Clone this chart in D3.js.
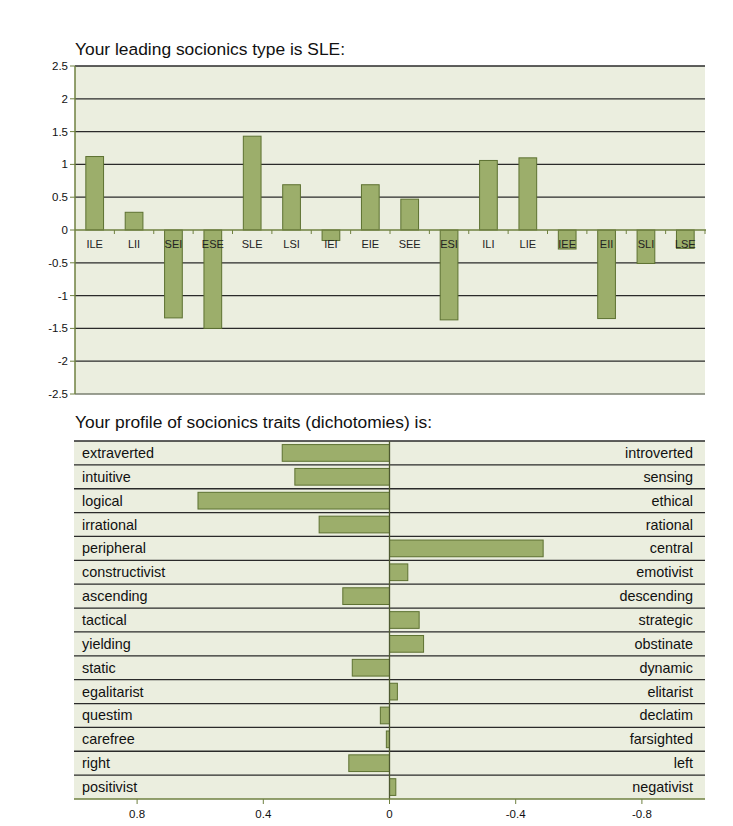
<!DOCTYPE html>
<html><head><meta charset="utf-8">
<script src="https://cdn.jsdelivr.net/npm/d3@7"></script>
<style>body{margin:0;background:#fff;font-family:Arial,"Liberation Sans",sans-serif;}</style>
</head><body><svg id="c" width="733" height="826"></svg>
<script>
const types = ["ILE","LII","SEI","ESE","SLE","LSI","IEI","EIE","SEE","ESI","ILI","LIE","IEE","EII","SLI","LSE"];
const typeValues = [1.12,0.27,-1.34,-1.50,1.43,0.69,-0.16,0.69,0.47,-1.37,1.06,1.10,-0.29,-1.35,-0.51,-0.28];
const yTicks = [2.5,2,1.5,1,0.5,0,-0.5,-1,-1.5,-2,-2.5];
const leftTraits = ["extraverted","intuitive","logical","irrational","peripheral","constructivist","ascending","tactical","yielding","static","egalitarist","questim","carefree","right","positivist"];
const rightTraits = ["introverted","sensing","ethical","rational","central","emotivist","descending","strategic","obstinate","dynamic","elitarist","declatim","farsighted","left","negativist"];
const traitValues = [0.34,0.30,0.607,0.223,-0.487,-0.058,0.148,-0.094,-0.108,0.118,-0.025,0.029,0.01,0.129,-0.02];
const xTicks = [0.8,0.4,0,-0.4,-0.8];

const svg = d3.select("#c");
const BG = "#ebeedf", FILL = "#9cae6b", STROKE = "#5d7131", AXIS = "#6f8040";

// ---------- Top chart ----------
const L = 75, R = 705, T = 66, B = 394;
svg.append("text").attr("x", 75).attr("y", 55).attr("font-size", 17.4).attr("fill", "#111")
  .text("Your leading socionics type is SLE:");
const x1 = d3.scaleBand().domain(types).range([L, R]).paddingInner(0.55).paddingOuter(0.275);
const xb = d3.scaleBand().domain(types).range([L, R]);
const y1 = d3.scaleLinear().domain([-2.5, 2.5]).range([B, T]);
svg.append("rect").attr("x", L).attr("y", T).attr("width", R - L).attr("height", B - T).attr("fill", BG);
const g1 = svg.append("g");
g1.selectAll("line.grid").data(yTicks.filter(d => d !== 0 && d !== -2.5)).join("line")
  .attr("x1", L).attr("x2", R).attr("y1", d => y1(d)).attr("y2", d => y1(d))
  .attr("stroke", "#2a2a2a").attr("stroke-width", 1.3);
g1.append("line").attr("x1", L).attr("x2", R).attr("y1", y1(-2.5)).attr("y2", y1(-2.5))
  .attr("stroke", "#7a7f70").attr("stroke-width", 1.5);
g1.selectAll("rect.bar").data(types).join("rect")
  .attr("x", d => x1(d)).attr("width", x1.bandwidth())
  .attr("y", (d, i) => y1(Math.max(0, typeValues[i])))
  .attr("height", (d, i) => Math.abs(y1(typeValues[i]) - y1(0)))
  .attr("fill", FILL).attr("stroke", STROKE).attr("stroke-width", 1);
// zero axis
g1.append("line").attr("x1", L).attr("x2", R + 1).attr("y1", y1(0)).attr("y2", y1(0))
  .attr("stroke", AXIS).attr("stroke-width", 1.5);
g1.selectAll("line.ct").data(types).join("line")
  .attr("x1", d => xb(d) + xb.bandwidth()).attr("x2", d => xb(d) + xb.bandwidth())
  .attr("y1", y1(0)).attr("y2", y1(0) + 4).attr("stroke", AXIS).attr("stroke-width", 1);
g1.selectAll("text.cat").data(types).join("text")
  .attr("x", d => xb(d) + xb.bandwidth() / 2).attr("y", y1(0) + 18)
  .attr("text-anchor", "middle").attr("font-size", 11).attr("fill", "#222").text(d => d);
// left axis
g1.append("line").attr("x1", L).attr("x2", L).attr("y1", T).attr("y2", B)
  .attr("stroke", AXIS).attr("stroke-width", 1.5);
g1.selectAll("line.yt").data(yTicks).join("line")
  .attr("x1", L - 5).attr("x2", L).attr("y1", d => y1(d)).attr("y2", d => y1(d))
  .attr("stroke", AXIS).attr("stroke-width", 1);
g1.selectAll("text.yl").data(yTicks).join("text")
  .attr("x", L - 7).attr("y", d => y1(d) + 4).attr("text-anchor", "end")
  .attr("font-size", 11.5).attr("fill", "#111").text(d => d);

// ---------- Bottom chart ----------
const L2 = 74, R2 = 705, T2 = 441, B2 = 799;
svg.append("text").attr("x", 75).attr("y", 428).attr("font-size", 17.4).attr("fill", "#111")
  .text("Your profile of socionics traits (dichotomies) is:");
const x2 = d3.scaleLinear().domain([1, -1]).range([L2, R2]);
const y2 = d3.scaleBand().domain(leftTraits).range([T2, B2]).paddingInner(0.3).paddingOuter(0.15);
const yr = d3.scaleBand().domain(leftTraits).range([T2, B2]);
svg.append("rect").attr("x", L2).attr("y", T2).attr("width", R2 - L2).attr("height", B2 - T2).attr("fill", BG);
const g2 = svg.append("g");
g2.selectAll("line.row").data(leftTraits).join("line")
  .attr("x1", L2).attr("x2", R2).attr("y1", d => yr(d)).attr("y2", d => yr(d))
  .attr("stroke", "#2a2a2a").attr("stroke-width", 1.3);
g2.selectAll("rect.bar").data(leftTraits).join("rect")
  .attr("y", d => y2(d)).attr("height", y2.bandwidth())
  .attr("x", (d, i) => x2(Math.max(0, traitValues[i])))
  .attr("width", (d, i) => Math.abs(x2(traitValues[i]) - x2(0)))
  .attr("fill", FILL).attr("stroke", STROKE).attr("stroke-width", 1);
g2.append("line").attr("x1", x2(0)).attr("x2", x2(0)).attr("y1", T2).attr("y2", B2)
  .attr("stroke", "#4e5a30").attr("stroke-width", 1.3);
g2.selectAll("text.lt").data(leftTraits).join("text")
  .attr("x", 82).attr("y", d => yr(d) + yr.bandwidth() / 2 + 5)
  .attr("font-size", 14.4).attr("fill", "#111").text(d => d);
g2.selectAll("text.rt").data(rightTraits).join("text")
  .attr("x", 693).attr("y", (d, i) => yr(leftTraits[i]) + yr.bandwidth() / 2 + 5)
  .attr("text-anchor", "end").attr("font-size", 14.4).attr("fill", "#111").text(d => d);
// bottom axis
g2.append("line").attr("x1", L2).attr("x2", R2).attr("y1", B2).attr("y2", B2)
  .attr("stroke", AXIS).attr("stroke-width", 1.5);
g2.selectAll("line.xt").data(xTicks).join("line")
  .attr("x1", d => x2(d)).attr("x2", d => x2(d)).attr("y1", B2).attr("y2", B2 + 5)
  .attr("stroke", AXIS).attr("stroke-width", 1);
g2.selectAll("text.xl").data(xTicks).join("text")
  .attr("x", d => x2(d)).attr("y", B2 + 19).attr("text-anchor", "middle")
  .attr("font-size", 11.5).attr("fill", "#111").text(d => d);
</script></body></html>
